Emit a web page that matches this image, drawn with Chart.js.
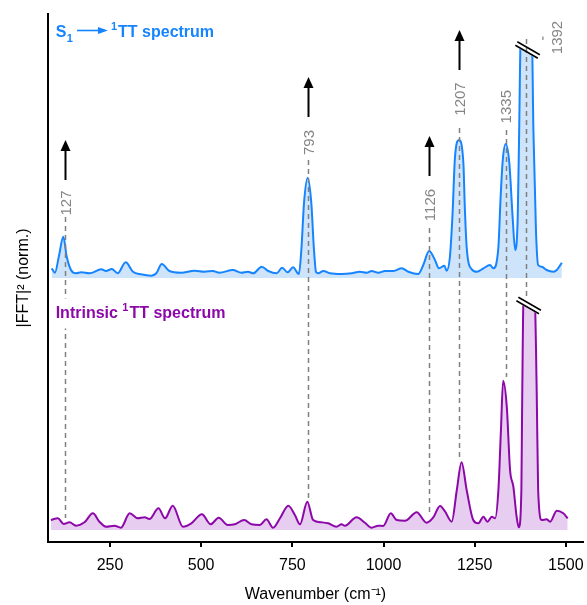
<!DOCTYPE html>
<html><head><meta charset="utf-8">
<script src="https://cdn.jsdelivr.net/npm/chart.js@4.4.1/dist/chart.umd.min.js"></script>
<style>html,body{margin:0;padding:0;background:#fff;}canvas{display:block;}</style>
</head><body>
<canvas id="c" width="587" height="605"></canvas>
<script>
// ---------------- data ----------------
const wavenumberTicks = [250, 500, 750, 1000, 1250, 1500];

const s1Wavenumber = [90,99,110,122,131,143,157,171,194,226,239,255,271,293,313,335,363,377,392,413,445,482,509,532,550,587,610,628,643,666,684,707,722,737,752,768,775,782,792,802,809,815,821,835,853,885,913,935,954,967,986,1004,1027,1050,1068,1095,1109,1125,1141,1152,1167,1173,1182,1189,1196,1207,1219,1223,1228,1242,1256,1274,1292,1301,1315,1321,1327,1335,1345,1354,1361,1368,1372,1376,1391,1407,1411,1418,1424,1434,1447,1466,1475,1489];
const s1Intensity = [0.097,0.053,0.22,0.413,0.22,0.08,0.047,0.057,0.047,0.087,0.07,0.09,0.047,0.157,0.063,0.037,0.023,0.047,0.14,0.07,0.053,0.073,0.063,0.07,0.053,0.08,0.053,0.063,0.047,0.113,0.07,0.047,0.103,0.057,0.107,0.04,0.30,0.75,1.003,0.75,0.30,0.06,0.047,0.07,0.047,0.04,0.047,0.063,0.053,0.07,0.053,0.07,0.07,0.097,0.063,0.04,0.13,0.27,0.18,0.097,0.123,0.073,0.21,0.62,1.21,1.38,1.15,0.70,0.31,0.087,0.063,0.097,0.13,0.097,0.31,0.80,1.18,1.34,1.15,0.61,0.28,0.61,1.48,2.40,2.65,2.40,1.48,0.48,0.13,0.113,0.08,0.063,0.08,0.153];

const ttWavenumber = [88,107,123,139,157,180,203,221,239,262,280,304,326,345,358,383,401,422,450,473,502,526,548,573,592,618,638,661,679,697,716,739,757,771,791,807,830,848,871,885,894,926,949,967,986,999,1020,1036,1059,1091,1118,1136,1155,1169,1187,1201,1214,1228,1246,1260,1274,1285,1297,1306,1315,1322,1328,1338,1347,1356,1365,1371,1378,1380,1384,1399,1415,1420,1424,1434,1447,1457,1475,1493,1505];
const ttIntensity = [0.10,0.117,0.06,0.077,0.043,0.077,0.167,0.083,0.033,0.043,0.023,0.167,0.117,0.127,0.11,0.217,0.117,0.243,0.033,0.067,0.157,0.057,0.123,0.05,0.057,0.10,0.057,0.05,0.107,0.023,0.117,0.243,0.15,0.057,0.283,0.10,0.077,0.067,0.033,0.057,0.043,0.127,0.073,0.023,0.043,0.04,0.167,0.10,0.093,0.177,0.073,0.123,0.24,0.183,0.083,0.40,0.677,0.40,0.10,0.067,0.133,0.083,0.133,0.117,0.40,1.00,1.493,1.233,0.60,0.433,0.133,0.027,0.40,1.20,2.35,2.45,2.28,1.40,0.40,0.10,0.107,0.083,0.193,0.167,0.117];

const peakPositions = [127, 793, 1126, 1207, 1335, 1392];
const arrowPeaks = [127, 793, 1126, 1207];
const s1Offset = 2.52;
const ttOffset = 0;

// ---------------- annotation placement (data units) ----------------
const annot = {
  labelX: [127, 793, 1126, 1207, 1335, 1473],
  labelY: [3.27, 3.875, 3.25, 4.31, 4.233, 4.925],
  dashTop: [3.13, 3.70, 3.02, 4.02, 4.00, 4.91],
  dashBottom: [0.12, 0.30, 0.18, 0.69, 1.53, 2.33],
  arrowBase: [3.50, 4.13, 3.54, 4.60],
  breaks: [{x: 1395, y: 4.80, maskFrom: 'top'}, {x: 1398, y: 2.245, maskFrom: 's1'}],
  leader: {x: 1437, y1: 4.935, y2: 4.90},
  s1Title: {x: 101, y: 4.93},
  ttTitle: {x: 101, y: 2.125}
};

const BLUE = '#1684ff', BLUE_FILL = '#cde4fa';
const PURPLE = '#8c08a8', PURPLE_FILL = '#e7cdef';
const FAM = '"Liberation Sans", Arial, Helvetica, sans-serif';

const annotPlugin = {
  id: 'annot',
  afterDatasetsDraw(chart) {
    const {ctx, scales: {x, y}, chartArea: ca} = chart;
    ctx.save();
    const ang = 30 * Math.PI / 180, co = Math.cos(ang), si = Math.sin(ang), sep = 2, half = 13;
    // masks for axis breaks
    annot.breaks.forEach(b => {
      const cx = x.getPixelForValue(b.x), cy = y.getPixelForValue(b.y);
      const lx = cx - si * sep, ly = cy + co * sep;
      const yl = px => ly + (px - lx) * Math.tan(ang) + 1.2;
      const topY = b.maskFrom === 'top' ? ca.top - 2 : y.getPixelForValue(s1Offset) + 2;
      const w = 12;
      ctx.fillStyle = '#fff';
      ctx.beginPath();
      ctx.moveTo(cx - w, topY);
      ctx.lineTo(cx + w, topY);
      ctx.lineTo(cx + w, yl(cx + w));
      ctx.lineTo(cx - w, yl(cx - w));
      ctx.closePath();
      ctx.fill();
    });
    // dashed guide lines
    ctx.strokeStyle = '#808080';
    ctx.lineWidth = 1.5;
    ctx.setLineDash([5, 4]);
    peakPositions.forEach((p, i) => {
      const px = Math.round(x.getPixelForValue(p)) + 0.5;
      ctx.beginPath();
      ctx.moveTo(px, y.getPixelForValue(annot.dashTop[i]));
      ctx.lineTo(px, y.getPixelForValue(annot.dashBottom[i]));
      ctx.stroke();
    });
    ctx.setLineDash([]);
    // leader tick for 1392 label
    {
      const px = x.getPixelForValue(annot.leader.x);
      ctx.lineWidth = 1.2;
      ctx.beginPath();
      ctx.moveTo(px, y.getPixelForValue(annot.leader.y1));
      ctx.lineTo(px, y.getPixelForValue(annot.leader.y2));
      ctx.stroke();
    }
    // break marks
    ctx.strokeStyle = '#000';
    ctx.lineWidth = 1.5;
    annot.breaks.forEach(b => {
      const cx = x.getPixelForValue(b.x), cy = y.getPixelForValue(b.y);
      [-1, 1].forEach(k => {
        const mx = cx - k * si * sep, my = cy + k * co * sep;
        ctx.beginPath();
        ctx.moveTo(mx - half * co, my - half * si);
        ctx.lineTo(mx + half * co, my + half * si);
        ctx.stroke();
      });
    });
    // arrows
    ctx.fillStyle = '#000';
    ctx.strokeStyle = '#000';
    ctx.lineWidth = 2;
    arrowPeaks.forEach((p, i) => {
      const px = Math.round(x.getPixelForValue(p)) + 0.5;
      const base = y.getPixelForValue(annot.arrowBase[i]);
      const tip = base - 40;
      ctx.beginPath();
      ctx.moveTo(px, base);
      ctx.lineTo(px, tip + 8);
      ctx.stroke();
      ctx.beginPath();
      ctx.moveTo(px, tip);
      ctx.lineTo(px - 5, tip + 11);
      ctx.lineTo(px + 5, tip + 11);
      ctx.closePath();
      ctx.fill();
    });
    // rotated peak labels
    ctx.fillStyle = '#858585';
    ctx.font = '15px ' + FAM;
    ctx.textAlign = 'center';
    ctx.textBaseline = 'middle';
    peakPositions.forEach((p, i) => {
      const px = x.getPixelForValue(annot.labelX[i]) + 1.5;
      const py = y.getPixelForValue(annot.labelY[i]);
      ctx.save();
      ctx.translate(px, py);
      ctx.rotate(-Math.PI / 2);
      ctx.fillText(String(p), 0, 0);
      ctx.restore();
    });
    // series titles
    ctx.textAlign = 'left';
    ctx.textBaseline = 'alphabetic';
    const big = 'bold 16px ' + FAM, small = 'bold 11px ' + FAM;
    {
      const ax = x.getPixelForValue(annot.s1Title.x), ay = y.getPixelForValue(annot.s1Title.y);
      ctx.fillStyle = BLUE; ctx.strokeStyle = BLUE;
      ctx.font = big; ctx.fillText('S', ax, ay);
      let cx = ax + ctx.measureText('S').width + 0.5;
      ctx.font = small; ctx.fillText('1', cx, ay + 4.5);
      cx += ctx.measureText('1').width + 4;
      const ay2 = ay - 6.5;
      ctx.lineWidth = 1.6;
      ctx.beginPath(); ctx.moveTo(cx, ay2); ctx.lineTo(cx + 24, ay2); ctx.stroke();
      ctx.beginPath(); ctx.moveTo(cx + 31, ay2); ctx.lineTo(cx + 21, ay2 - 3.5); ctx.lineTo(cx + 21, ay2 + 3.5); ctx.closePath(); ctx.fill();
      cx += 34;
      ctx.fillText('1', cx, ay - 7);
      cx += ctx.measureText('1').width + 1;
      ctx.font = big; ctx.fillText('TT spectrum', cx, ay);
    }
    {
      const ax = x.getPixelForValue(annot.ttTitle.x), ay = y.getPixelForValue(annot.ttTitle.y);
      ctx.font = big;
      const w1 = ctx.measureText('Intrinsic ').width;
      ctx.font = small;
      const w2 = ctx.measureText('1').width;
      ctx.font = big;
      const w3 = ctx.measureText('TT spectrum').width;
      ctx.fillStyle = '#fff';
      ctx.fillRect(ax - 3, ay - 19, w1 + w2 + w3 + 8, 30);
      ctx.fillStyle = PURPLE;
      ctx.fillText('Intrinsic ', ax, ay);
      ctx.font = small;
      ctx.fillText('1', ax + w1, ay - 7);
      ctx.font = big;
      ctx.fillText('TT spectrum', ax + w1 + w2 + 1, ay);
    }
    ctx.restore();
  }
};

new Chart(document.getElementById('c'), {
  type: 'line',
  data: {
    datasets: [
      {
        label: 'S1 -> 1TT spectrum',
        data: s1Wavenumber.map((v, i) => ({x: v, y: s1Intensity[i] + s1Offset})),
        borderColor: BLUE, backgroundColor: BLUE_FILL,
        fill: {value: s1Offset}, borderWidth: 2, pointRadius: 0,
        cubicInterpolationMode: 'monotone'
      },
      {
        label: 'Intrinsic 1TT spectrum',
        data: ttWavenumber.map((v, i) => ({x: v, y: ttIntensity[i] + ttOffset})),
        borderColor: PURPLE, backgroundColor: PURPLE_FILL,
        fill: {value: ttOffset}, borderWidth: 2, pointRadius: 0,
        cubicInterpolationMode: 'monotone'
      }
    ]
  },
  options: {
    responsive: false, animation: false, devicePixelRatio: 1,
    layout: {padding: {top: 14, right: 4, left: 0, bottom: 0}},
    plugins: {legend: {display: false}, tooltip: {enabled: false}},
    scales: {
      x: {
        type: 'linear', min: 80, max: 1547,
        afterBuildTicks: ax => { ax.ticks = wavenumberTicks.map(v => ({value: v})); },
        afterFit: ax => { ax.height = 63; ax.paddingRight = 0; ax.paddingLeft = 0; },
        ticks: {font: {family: FAM, size: 16}, color: '#000', padding: 9, maxRotation: 0, callback: v => String(v)},
        grid: {display: true, drawOnChartArea: false, drawTicks: true, tickLength: 5, color: '#000', lineWidth: 2},
        border: {display: true, color: '#000', width: 2},
        title: {display: true, text: 'Wavenumber (cm\u207B\u00B9)', font: {family: FAM, size: 16}, color: '#000', padding: {top: 0, bottom: 1}}
      },
      y: {
        type: 'linear', min: -0.12, max: 5.16,
        afterFit: ax => { ax.width = 48; },
        ticks: {display: false},
        grid: {display: false},
        border: {display: true, color: '#000', width: 2},
        title: {display: true, text: '|FFT|\u00B2 (norm.)', font: {family: FAM, size: 16}, color: '#000', padding: {top: 14, bottom: 0}}
      }
    }
  },
  plugins: [annotPlugin]
});
</script>
</body></html>
